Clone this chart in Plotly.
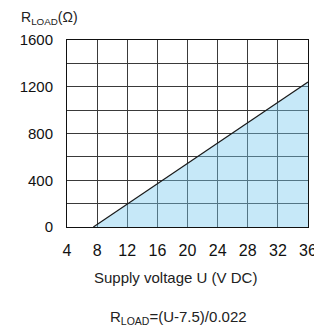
import plotly.graph_objects as go

# supply voltage U (V DC) and max load resistance (ohm)
voltage = [7.5, 36]
r_load = [0, 1240]

x_ticks = [4, 8, 12, 16, 20, 24, 28, 32, 36]
y_ticks = [0, 400, 800, 1200, 1600]

grid = '#3a3a3a'
font = 'Liberation Sans, Arial, sans-serif'

fig = go.Figure()
fig.add_trace(go.Scatter(x=voltage,
                         y=r_load,
                         mode='lines',
                         fill='tozeroy',
                         fillcolor='rgba(120, 200, 238, 0.42)',
                         line=dict(color='#1a1a1a', width=1.2),
                         hoverinfo='skip'))

fig.update_xaxes(range=[4, 36],
                 tickvals=x_ticks,
                 automargin=False,
                 showgrid=True, gridcolor=grid, gridwidth=1,
                 showline=True, linecolor='#111', linewidth=1, mirror=True,
                 zeroline=False, ticks='', ticklen=0, ticklabelstandoff=9,
                 tickfont=dict(size=16, color='#111', family=font))

fig.update_yaxes(range=[0, 1600],
                 tickvals=y_ticks,
                 automargin=False,
                 showgrid=True, gridcolor=grid, gridwidth=1,
                 minor=dict(dtick=200, showgrid=True, gridcolor=grid, gridwidth=1),
                 showline=True, linecolor='#111', linewidth=1, mirror=True,
                 zeroline=False, ticks='', ticklen=0, ticklabelstandoff=10,
                 tickfont=dict(size=15, color='#111', family=font))

fig.add_annotation(text='R<sub>LOAD</sub>(Ω)', xref='paper', yref='paper',
                   x=-0.2, y=1.118, xanchor='left', yanchor='middle',
                   showarrow=False, font=dict(size=14, color='#222', family=font))
fig.add_annotation(text='Supply voltage U (V DC)', xref='paper', yref='paper',
                   x=0.45, y=-0.27, xanchor='center', yanchor='middle',
                   showarrow=False, font=dict(size=15, color='#222', family=font))
fig.add_annotation(text='R<sub>LOAD</sub>=(U-7.5)/0.022', xref='paper', yref='paper',
                   x=0.462, y=-0.545, xanchor='center', yanchor='bottom',
                   showarrow=False, font=dict(size=15, color='#222', family=font))

# page body keeps its default 8px margin, so the figure is 8px smaller
fig.update_layout(width=314, height=318,
                  margin=dict(l=59, r=14, t=32, b=99),
                  plot_bgcolor='white', paper_bgcolor='white',
                  showlegend=False)

fig.write_html("out.html")
